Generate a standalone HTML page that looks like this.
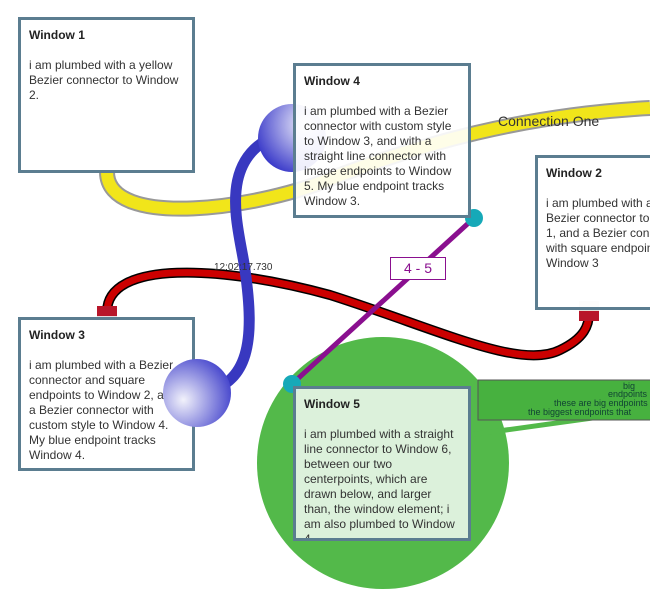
<!DOCTYPE html>
<html><head><style>
html,body{margin:0;width:650px;height:607px;overflow:hidden}
body{background:#fff;position:relative;font-family:"Liberation Sans",sans-serif;}
.w{position:absolute;background:rgba(255,255,255,0.9);border:3px solid #5b7d90;box-sizing:border-box;padding:8px 8px;font-size:12px;color:#333;line-height:15px;overflow:hidden}
.w b{display:block;margin-bottom:15px;color:#222;}
svg{position:absolute;left:0;top:0;}
.bl{position:absolute;font-size:9px;line-height:9px;color:#143;white-space:nowrap}
</style></head><body>
<svg width="650" height="607">
<circle cx="383" cy="463" r="126" fill="#53b94a"/>
<path d="M107 172 C107 230 260 210 340 175 C420 145 520 115 650 108" stroke="#999" stroke-width="16" fill="none"/>
<path d="M107 172 C107 230 260 210 340 175 C420 145 520 115 650 108" stroke="#f1e51a" stroke-width="12" fill="none"/>
<path d="M107 312 C107 260 220 265 330 295 C440 330 520 370 560 350 C585 338 589 325 589 313" stroke="#000" stroke-width="10" fill="none"/>
<path d="M107 312 C107 260 220 265 330 295 C440 330 520 370 560 350 C585 338 589 325 589 313" stroke="#c00" stroke-width="7" fill="none"/>
<rect x="97" y="306" width="20" height="20" fill="#b8162a"/>
<rect x="97" y="316" width="20" height="10" fill="#e7d8dc"/>
<rect x="579" y="301" width="20" height="20" fill="#b8162a"/>
<rect x="579" y="301" width="20" height="10" fill="#e5e0d8"/>
<path d="M292 130 C210 150 240 230 245 270 C255 340 250 385 200 393" stroke="#3838c0" stroke-width="11" fill="none"/>
<defs><radialGradient id="g" cx="0.7" cy="0.3" r="0.8"><stop offset="0" stop-color="#f2f2fb"/><stop offset="1" stop-color="#3535c8"/></radialGradient>
<radialGradient id="g2" cx="0.3" cy="0.6" r="0.8"><stop offset="0" stop-color="#f2f2fb"/><stop offset="1" stop-color="#3535c8"/></radialGradient></defs>
<circle cx="292" cy="138" r="34" fill="url(#g)"/>
<line x1="474" y1="218" x2="292" y2="384" stroke="#8a0f8f" stroke-width="5"/>
<circle cx="474" cy="218" r="9" fill="#16a9b8"/>
<circle cx="292" cy="384" r="9" fill="#16a9b8"/>
<line x1="470" y1="435" x2="650" y2="410" stroke="#53b94a" stroke-width="5"/>
<rect x="478" y="380" width="175" height="40" fill="#47b13f" stroke="#555" stroke-width="1"/>
</svg>
<div style="position:absolute;left:498px;top:113px;font-size:14px;color:#333">Connection One</div>
<div style="position:absolute;left:214px;top:262px;font-size:10px;color:#333">12:02:17.730</div>
<div style="position:absolute;left:390px;top:257px;width:54px;height:21px;border:1px solid #8a0f8f;background:#fff;color:#8a0f8f;font-size:14px;text-align:center;line-height:21px">4 - 5</div>
<div style="position:absolute;left:478px;top:380px;width:172px;height:40px;overflow:hidden">
<div class="bl" style="left:145px;top:2px">big</div>
<div class="bl" style="left:130px;top:10px">endpoints</div>
<div class="bl" style="left:76px;top:19px">these are big endpoints</div>
<div class="bl" style="left:50px;top:28px">the biggest endpoints that</div>
</div>
<div class="w" style="left:18px;top:17px;width:177px;height:156px"><b>Window 1</b>i am plumbed with a yellow Bezier connector to Window 2.</div>
<div class="w" style="left:293px;top:63px;width:178px;height:155px"><b>Window 4</b>i am plumbed with a Bezier connector with custom style to Window 3, and with a straight line connector with image endpoints to Window 5. My blue endpoint tracks Window 3.</div>
<div class="w" style="left:535px;top:155px;width:115px;height:155px;border-right:none;white-space:nowrap"><b>Window 2</b>i am plumbed with a Bezier<br>Bezier connector to Window<br>1, and a Bezier connector<br>with square endpoints to<br>Window 3</div>
<div class="w" style="left:18px;top:317px;width:177px;height:154px;background:#fff"><b>Window 3</b>i am plumbed with a Bezier connector and square endpoints to Window 2, and a Bezier connector with custom style to Window 4. My blue endpoint tracks Window 4.</div>
<svg width="650" height="607" style="pointer-events:none"><circle cx="197" cy="393" r="34" fill="url(#g2b)"/><defs><radialGradient id="g2b" cx="0.3" cy="0.6" r="0.8"><stop offset="0" stop-color="#f2f2fb"/><stop offset="1" stop-color="#3535c8"/></radialGradient></defs></svg>
<div class="w" style="left:293px;top:386px;width:178px;height:155px;background:rgba(255,255,255,0.8)"><b>Window 5</b>i am plumbed with a straight line connector to Window 6, between our two centerpoints, which are drawn below, and larger than, the window element; i am also plumbed to Window 4.</div>
</body></html>
